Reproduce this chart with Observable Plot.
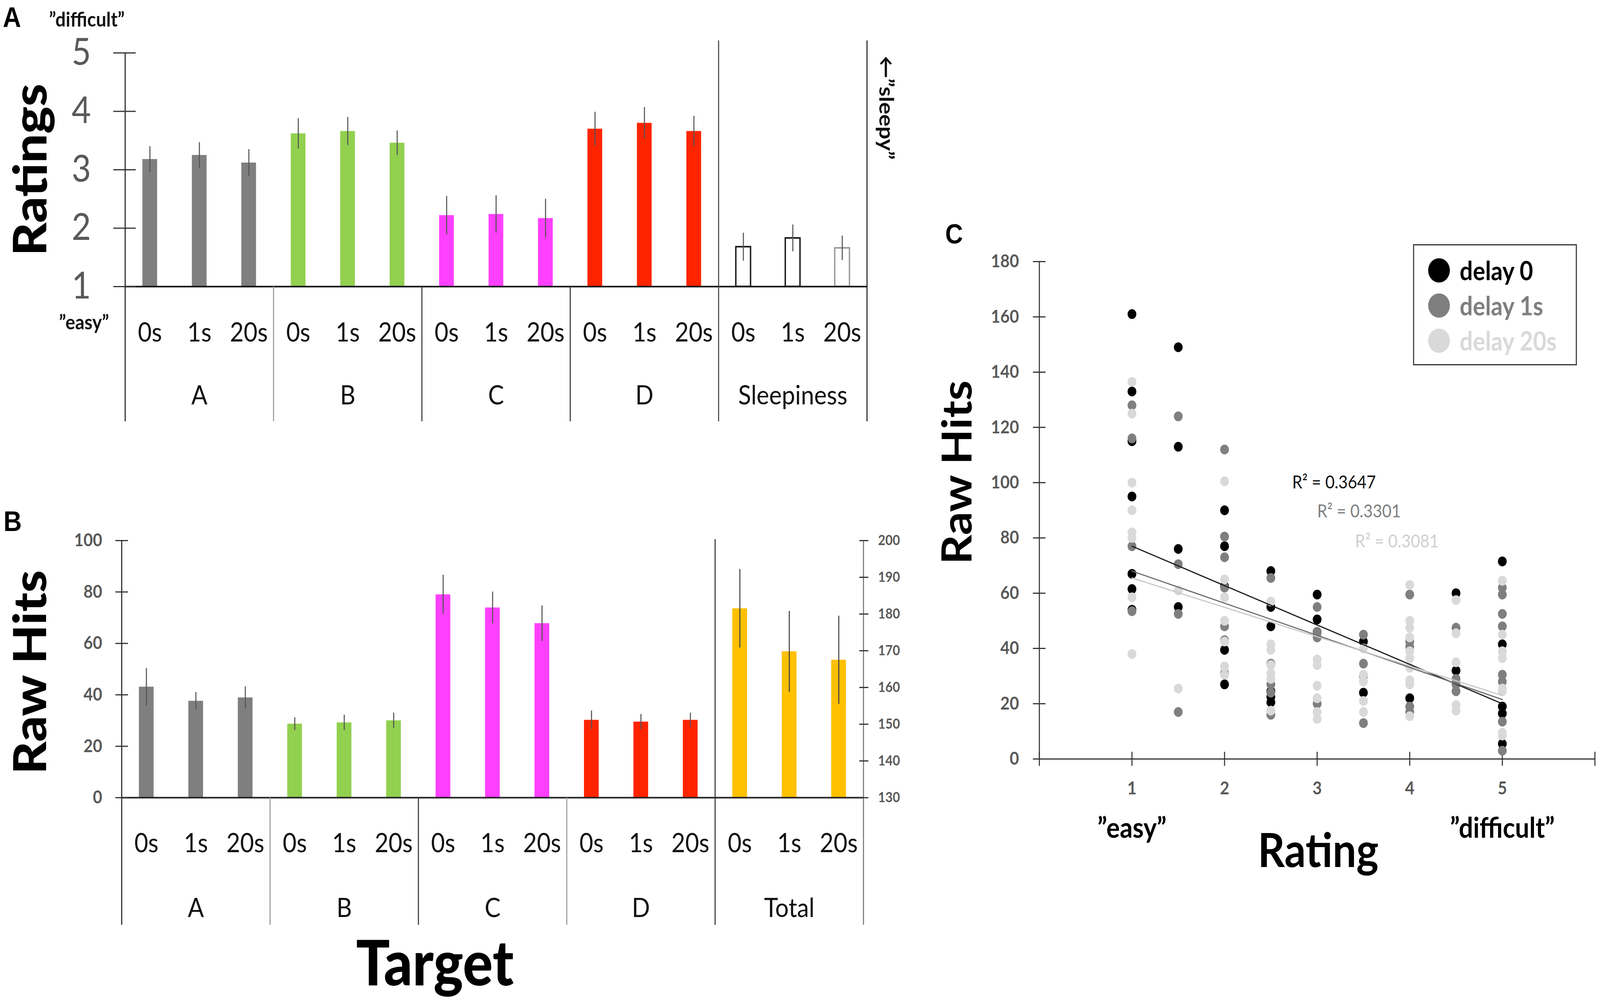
<!DOCTYPE html>
<html>
<head>
<meta charset="utf-8">
<script src="https://cdn.jsdelivr.net/npm/d3@7"></script>
<script src="https://cdn.jsdelivr.net/npm/@observablehq/plot@0.6"></script>
<style>
  html, body { margin: 0; padding: 0; background: #fff; overflow: hidden; }
  #wrap { position: relative; overflow: hidden; background: #fff; }
  #fig { position: absolute; left: 0; top: 0; width: 4562px; height: 2567px; background: #fff; overflow: hidden; transform-origin: 0 0; }
  .tag { position: absolute; font-family: "Liberation Sans", Arial, sans-serif; font-weight: bold; line-height: 1; color: #000; }
  .legend { position: absolute; box-sizing: border-box; border: 3px solid #333; background: #fff; }
  .legend .row { position: absolute; display: flex; align-items: center; font-family: Lato, sans-serif; font-weight: bold; line-height: 1; white-space: nowrap; }
  .legend .sw { border-radius: 50%; display: inline-block; }
</style>
</head>
<body>
<div id="wrap"><div id="fig"></div></div>
<script>
// ---------------- DATA ----------------
const delays = ["0s", "1s", "20s"];

// Panel A: ratings (mean and error half-length per group × delay)
const ratingGroups = ["A", "B", "C", "D", "Sleepiness"];
const ratingMeans = [
  [3.18, 3.25, 3.12],
  [3.62, 3.66, 3.46],
  [2.22, 2.24, 2.17],
  [3.70, 3.80, 3.66],
  [1.68, 1.83, 1.66]
];
const ratingErrors = [
  [0.22, 0.22, 0.23],
  [0.26, 0.24, 0.21],
  [0.33, 0.32, 0.33],
  [0.29, 0.27, 0.26],
  [0.24, 0.23, 0.21]
];
const ratingColors = ["#7f7f7f", "#92d050", "#ff40ff", "#ff2400", "#ffffff"];
const sleepOutline = ["#1a1a1a", "#1a1a1a", "#9a9a9a"];
const ratingTicks = [1, 2, 3, 4, 5];

// Panel B: raw hits
const hitGroups = ["A", "B", "C", "D", "Total"];
const hitMeans = [
  [43.1, 37.6, 38.9],
  [28.7, 29.2, 30.0],
  [79.0, 73.9, 67.8],
  [30.2, 29.5, 30.2]
];
const hitErrors = [
  [7.3, 3.4, 4.3],
  [2.5, 3.0, 3.0],
  [7.6, 6.2, 6.9],
  [3.6, 3.0, 2.8]
];
const totalMeans = [181.5, 169.8, 167.5];   // right axis units
const totalErrors = [10.7, 11.0, 12.0];
const hitColors = ["#7f7f7f", "#92d050", "#ff40ff", "#ff2400", "#ffc000"];
const hitTicks = [0, 20, 40, 60, 80, 100];
const totalTicks = [130, 140, 150, 160, 170, 180, 190, 200];

// Panel C: raw hits vs rating, per delay: [rating, [hits...]]
const seriesNames = ["delay 0", "delay 1s", "delay 20s"];
const seriesColors = ["#000000", "#7f7f7f", "#d9d9d9"];
const delay0 = [
  [1, [161, 133, 115, 95, 67, 61.5, 54]],
  [1.5, [149, 113, 76, 55]],
  [2, [90, 77, 62.5, 39.5, 27]],
  [2.5, [68, 55, 48, 24.5, 22.5, 20.5]],
  [3, [59.5, 50.5, 46]],
  [3.5, [42.5, 24]],
  [4, [22]],
  [4.5, [60, 32]],
  [5, [71.5, 41.5, 19, 16.5, 5.5]]
];
const delay1 = [
  [1, [128, 116, 77, 53.5]],
  [1.5, [124, 70.5, 52.5, 17]],
  [2, [112, 80.5, 73, 62, 48, 43, 31]],
  [2.5, [65.5, 34.5, 27, 24, 16]],
  [3, [55, 46, 44, 20]],
  [3.5, [45, 34.5, 30, 13]],
  [4, [59.5, 42.5, 40.5, 19, 17]],
  [4.5, [47.5, 29, 27, 24.5]],
  [5, [62, 59.5, 52.5, 48, 30.5, 28, 13.5, 3]]
];
const delay20 = [
  [1, [136.5, 125, 100, 90, 82, 80, 58.5, 38]],
  [1.5, [61, 25.5]],
  [2, [100.5, 65, 58.5, 50, 42.5, 33.5, 30.5]],
  [2.5, [57, 41.5, 39.5, 34, 31, 29, 17.5]],
  [3, [36, 34, 26.5, 22, 17, 14.5]],
  [3.5, [40, 30.5, 28, 21, 17]],
  [4, [63, 50, 47.5, 44, 39, 36.5, 33, 28.5, 27, 15.5]],
  [4.5, [57.5, 45.5, 35, 19.5, 17.5]],
  [5, [64.5, 45, 39, 36.5, 25.5, 24.5, 9.5, 8.5]]
];
// regression lines (value at rating 1 and at rating 5)
const trendStart = [77, 68, 65.5];
const trendEnd = [20, 21.5, 23];
const r2Labels = ["R\u00B2 = 0.3647", "R\u00B2 = 0.3301", "R\u00B2 = 0.3081"];
const r2X = [2.73, 3.0, 3.41];
const r2Y = [100, 89.5, 78.6];
const r2Colors = ["#111111", "#7f7f7f", "#cfcfcf"];
const ratingAxisTicks = [0, 1, 2, 3, 4, 5, 6];
const ratingLabelTicks = [1, 2, 3, 4, 5];
const hitsAxisTicks = [0, 20, 40, 60, 80, 100, 120, 140, 160, 180];
const endLabels = ["\u201Deasy\u201D", "\u201Ddifficult\u201D"];

// ---------------- HELPERS ----------------
const FW = 4562, FH = 2567;
const wrap = document.getElementById("wrap");
const fig = document.getElementById("fig");
function fit() {
  // fill the window the figure is shown in (keeps the reference layout proportions)
  let sx = window.innerWidth / FW, sy = window.innerHeight / FH;
  if (Math.abs(sx - 1) < 0.001) sx = 1;
  if (Math.abs(sy - 1) < 0.001) sy = 1;
  fig.style.transform = (sx === 1 && sy === 1) ? "none" : `scale(${sx}, ${sy})`;
  wrap.style.width = (FW * sx) + "px";
  wrap.style.height = (FH * sy) + "px";
}
fit();
window.addEventListener("resize", fit);
function place(node, left, top) {
  node.style.position = "absolute";
  node.style.left = left + "px";
  node.style.top = top + "px";
  fig.appendChild(node);
}
const plotStyle = {fontFamily: "Lato, 'DejaVu Sans', sans-serif", fontSize: "40px", overflow: "visible", background: "transparent", color: "#000", maxWidth: "none"};
const Q = "\u201D";
const plain = d => String(d);
const centered = {textAnchor: "middle", lineAnchor: "middle"};

// ---------------- PANEL A ----------------
{
  const L = {width: 2600, height: 1100, ml: 355, mr: 127, mt: 135, mb: 367, tableBottom: -1.31, lineTop: 5.21};
  const base = ratingTicks[0], top = ratingTicks[ratingTicks.length - 1];
  const rows = ratingGroups.flatMap((g, gi) => delays.map((d, di) => ({key: g + "|" + d, gi, di, mean: ratingMeans[gi][di], err: ratingErrors[gi][di]})));
  const step = (L.width - L.ml - L.mr) / rows.length;
  const sleepIdx = ratingGroups.indexOf("Sleepiness");
  const starts = ratingGroups.map(g => g + "|" + delays[0]);
  const mids = ratingGroups.map(g => g + "|" + delays[1]);
  const lastKey = rows[rows.length - 1].key;
  const p = Plot.plot({
    width: L.width, height: L.height,
    marginLeft: L.ml, marginRight: L.mr, marginTop: L.mt, marginBottom: L.mb,
    style: plotStyle,
    x: {type: "band", domain: rows.map(r => r.key), paddingInner: 0.7, paddingOuter: 0.35},
    y: {domain: [base, top]},
    color: {type: "identity"},
    marks: [
      Plot.barY(rows.filter(r => r.gi !== sleepIdx), {x: "key", y1: () => base, y2: "mean", fill: r => ratingColors[r.gi]}),
      Plot.barY(rows.filter(r => r.gi === sleepIdx), {x: "key", y1: () => base, y2: "mean", fill: "#ffffff", stroke: r => sleepOutline[r.di], strokeWidth: 4}),
      Plot.ruleX(rows, {x: "key", y1: r => r.mean - r.err, y2: r => r.mean + r.err, stroke: "#555555", strokeWidth: 3}),
      Plot.ruleY([base], {stroke: "#111", strokeWidth: 4}),
      Plot.ruleX([starts[0]], {x: d => d, dx: -step / 2, y1: () => top, y2: () => L.tableBottom, stroke: "#222", strokeWidth: 3}),
      Plot.ruleX(starts.slice(1, sleepIdx), {x: d => d, dx: -step / 2, y1: () => base, y2: () => L.tableBottom, stroke: (d, i) => i === 0 ? "#9a9a9a" : "#333333", strokeWidth: 3}),
      Plot.ruleX([starts[sleepIdx]], {x: d => d, dx: -step / 2, y1: () => L.lineTop, y2: () => L.tableBottom, stroke: "#444", strokeWidth: 3}),
      Plot.ruleX([lastKey], {x: d => d, dx: step / 2, y1: () => L.lineTop, y2: () => L.tableBottom, stroke: "#222", strokeWidth: 3}),
      Plot.axisY(ratingTicks, {tickSize: 64, dx: 32, fill: "none", stroke: "#333", strokeWidth: 3, label: null}),
      Plot.axisY(ratingTicks, {tickSize: 0, tickPadding: 96, tickFormat: plain, fontSize: 95, fill: "#595959", label: null}),
      Plot.axisX({tickSize: 0, tickPadding: 92, tickFormat: k => k.split("|")[1], fontSize: 68, fill: "#111", label: null}),
      Plot.axisX(mids, {tickSize: 0, tickPadding: 253, tickFormat: k => k.split("|")[0], fontSize: 68, fill: "#111", label: null}),
      Plot.text(["Ratings"], {text: d => d, frameAnchor: "left", ...centered, rotate: -90, dx: -265, fontSize: 132, fontWeight: 900, fill: "#000"}),
      Plot.text([Q + "difficult" + Q], {text: d => d, frameAnchor: "top-left", ...centered, dx: -108, dy: -84, fontSize: 52, fontWeight: "bold", fill: "#111"}),
      Plot.text([Q + "easy" + Q], {text: d => d, frameAnchor: "bottom-left", ...centered, dx: -116, dy: 93, fontSize: 52, fontWeight: "bold", fill: "#111"}),
      Plot.text(["\u2190" + Q + "sleepy" + Q], {text: d => d, frameAnchor: "top-right", ...centered, rotate: 90, dx: 52, dy: 140, fontSize: 58, fontWeight: "bold", fill: "#111"})
    ]
  });
  place(p, 0, 0);
}

// ---------------- PANEL B ----------------
{
  const L = {width: 2600, height: 1287, ml: 347, mr: 138, mt: 103, mb: 526, tableBottom: -49.5, lineTop: 100.5};
  const base = hitTicks[0], top = hitTicks[hitTicks.length - 1];
  const t0 = totalTicks[0], t1 = totalTicks[totalTicks.length - 1];
  const toLeft = v => base + (v - t0) / (t1 - t0) * (top - base);
  const fromLeft = v => t0 + (v - base) / (top - base) * (t1 - t0);
  const totalIdx = hitGroups.indexOf("Total");
  const rows = hitGroups.flatMap((g, gi) => delays.map((d, di) => {
    const isTotal = gi === totalIdx;
    const mean = isTotal ? toLeft(totalMeans[di]) : hitMeans[gi][di];
    const err = isTotal ? totalErrors[di] * (top - base) / (t1 - t0) : hitErrors[gi][di];
    return {key: g + "|" + d, gi, di, mean, err};
  }));
  const step = (L.width - L.ml - L.mr) / rows.length;
  const starts = hitGroups.map(g => g + "|" + delays[0]);
  const mids = hitGroups.map(g => g + "|" + delays[1]);
  const lastKey = rows[rows.length - 1].key;
  const p = Plot.plot({
    width: L.width, height: L.height,
    marginLeft: L.ml, marginRight: L.mr, marginTop: L.mt, marginBottom: L.mb,
    style: plotStyle,
    x: {type: "band", domain: rows.map(r => r.key), paddingInner: 0.7, paddingOuter: 0.35},
    y: {domain: [base, top]},
    color: {type: "identity"},
    marks: [
      Plot.barY(rows, {x: "key", y1: () => base, y2: "mean", fill: r => hitColors[r.gi]}),
      Plot.ruleX(rows, {x: "key", y1: r => r.mean - r.err, y2: r => r.mean + r.err, stroke: r => r.gi === totalIdx ? "#444444" : "#555555", strokeWidth: 3}),
      Plot.ruleY([base], {stroke: "#222", strokeWidth: 4}),
      Plot.ruleX([starts[0]], {x: d => d, dx: -step / 2, y1: () => top, y2: () => L.tableBottom, stroke: "#222", strokeWidth: 3}),
      Plot.ruleX(starts.slice(1, totalIdx), {x: d => d, dx: -step / 2, y1: () => base, y2: () => L.tableBottom, stroke: (d, i) => i === 1 ? "#333333" : "#9a9a9a", strokeWidth: 3}),
      Plot.ruleX([starts[totalIdx]], {x: d => d, dx: -step / 2, y1: () => L.lineTop, y2: () => L.tableBottom, stroke: "#333", strokeWidth: 3}),
      Plot.ruleX([lastKey], {x: d => d, dx: step / 2, y1: () => top, y2: () => L.tableBottom, stroke: "#777", strokeWidth: 3}),
      Plot.axisY(hitTicks, {tickSize: 36, dx: 18, fill: "none", stroke: "#333", strokeWidth: 3, label: null}),
      Plot.axisY(hitTicks, {tickSize: 0, tickPadding: 56, tickFormat: plain, fontSize: 46, fontWeight: "bold", fill: "#595959", label: null}),
      Plot.axisY(totalTicks.map(toLeft), {anchor: "right", tickSize: 26, dx: -13, fill: "none", stroke: "#333", strokeWidth: 3, label: null}),
      Plot.axisY(totalTicks.map(toLeft), {anchor: "right", tickSize: 0, tickPadding: 41, tickFormat: v => String(Math.round(fromLeft(v))), fontSize: 36, fontWeight: "bold", fill: "#595959", label: null}),
      Plot.axisX({tickSize: 0, tickPadding: 91, tickFormat: k => k.split("|")[1], fontSize: 68, fill: "#111", label: null}),
      Plot.axisX(mids, {tickSize: 0, tickPadding: 257, tickFormat: k => k.split("|")[0], fontSize: 68, fill: "#111", label: null}),
      Plot.text(["Raw Hits"], {text: d => d, frameAnchor: "left", ...centered, rotate: -90, dx: -258, dy: 8, fontSize: 130, fontWeight: 900, fill: "#000"}),
      Plot.text(["Target"], {text: d => d, frameAnchor: "bottom", ...centered, dx: -165, dy: 429, fontSize: 160, fontWeight: 900, fill: "#000"})
    ]
  });
  place(p, 0, 1280);
}

// ---------------- PANEL C ----------------
{
  const L = {width: 1912, height: 2017, ml: 313, mr: 15, mt: 119, mb: 625};
  const series = [delay0, delay1, delay20];
  const pts = series.flatMap((s, si) => s.flatMap(([r, hs]) => hs.map(h => ({si, rating: r, hits: h}))));
  const rMin = d3.min(series, s => s[0][0]);
  const rMax = d3.max(series, s => s[s.length - 1][0]);
  const trend = seriesNames.flatMap((n, si) => [{si, x: rMin, y: trendStart[si]}, {si, x: rMax, y: trendEnd[si]}]);
  const r2 = r2Labels.map((t, i) => ({t, x: r2X[i], y: r2Y[i], c: r2Colors[i], w: i === 0 ? "bold" : "normal"}));
  const p = Plot.plot({
    width: L.width, height: L.height,
    marginLeft: L.ml, marginRight: L.mr, marginTop: L.mt, marginBottom: L.mb,
    style: plotStyle,
    x: {domain: [ratingAxisTicks[0], ratingAxisTicks[ratingAxisTicks.length - 1]]},
    y: {domain: [hitsAxisTicks[0], hitsAxisTicks[hitsAxisTicks.length - 1]]},
    color: {type: "identity"},
    marks: [
      Plot.ruleY([hitsAxisTicks[0]], {stroke: "#333", strokeWidth: 3}),
      Plot.ruleX([ratingAxisTicks[0]], {stroke: "#333", strokeWidth: 3}),
      Plot.axisY(hitsAxisTicks, {tickSize: 36, dx: 18, fill: "none", stroke: "#333", strokeWidth: 3, label: null}),
      Plot.axisY(hitsAxisTicks, {tickSize: 0, tickPadding: 58, tickFormat: plain, fontSize: 46, fontWeight: "bold", fill: "#595959", label: null}),
      Plot.axisX(ratingAxisTicks, {tickSize: 36, dy: -18, fill: "none", stroke: "#333", strokeWidth: 3, label: null}),
      Plot.axisX(ratingLabelTicks, {tickSize: 0, tickPadding: 58, tickFormat: plain, fontSize: 46, fontWeight: "bold", fill: "#595959", label: null}),
      Plot.axisX([rMin, rMax], {tickSize: 0, tickPadding: 150, tickFormat: (d, i) => endLabels[i], fontSize: 72, fontWeight: "bold", fill: "#000", label: null}),
      Plot.dot(pts, {x: "rating", y: "hits", r: 12.5, fill: d => seriesColors[d.si], stroke: "none"}),
      Plot.line(trend, {x: "x", y: "y", z: "si", stroke: d => ["#1a1a1a", "#6e6e6e", "#c8c8c8"][d.si], strokeWidth: 3}),
      Plot.text(r2, {x: "x", y: "y", text: "t", fill: "c", fontWeight: d => d.w, textAnchor: "start", fontSize: 46}),
      Plot.text(["Raw Hits"], {text: d => d, frameAnchor: "left", ...centered, rotate: -90, dx: -231, dy: -97, fontSize: 118, fontWeight: "bold", fill: "#000"}),
      Plot.text(["Rating"], {text: d => d, frameAnchor: "bottom", ...centered, dx: 3, dy: 238, fontSize: 120, fontWeight: "bold", fill: "#000"})
    ]
  });
  place(p, 2650, 550);
}

// ---------------- LEGEND (panel C) ----------------
{
  const box = document.createElement("div");
  box.className = "legend";
  box.style.width = "467px";
  box.style.height = "310px";
  seriesNames.forEach((n, i) => {
    const row = document.createElement("div");
    row.className = "row";
    row.style.left = "40px";
    row.style.top = (64 + i * 90 - 34) + "px";
    row.style.height = "68px";
    row.style.fontSize = "66px";
    row.style.color = seriesColors[i];
    const sw = document.createElement("span");
    sw.className = "sw";
    sw.style.width = "62px";
    sw.style.height = "62px";
    sw.style.background = seriesColors[i];
    sw.style.marginRight = "28px";
    row.appendChild(sw);
    row.appendChild(document.createTextNode(n));
    box.appendChild(row);
  });
  place(box, 4029, 625);
}

// ---------------- PANEL TAGS ----------------
[["A", 8, 8, 72], ["B", 10, 1298, 72], ["C", 2695, 564, 70]].forEach(([t, x, y, s]) => {
  const d = document.createElement("div");
  d.className = "tag";
  d.style.fontSize = s + "px";
  d.textContent = t;
  place(d, x, y);
});
</script>
</body>
</html>
